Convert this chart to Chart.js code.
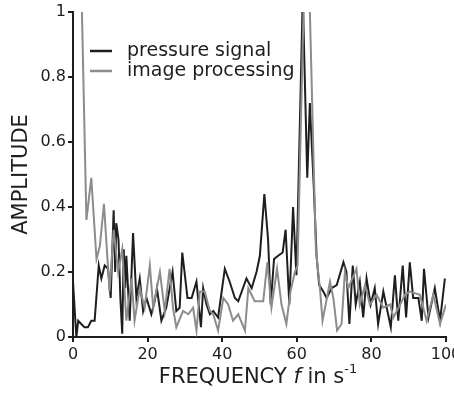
<!DOCTYPE html>
<html>
<head>
<meta charset="utf-8">
<script src="https://cdn.jsdelivr.net/npm/chart.js@4/dist/chart.umd.min.js"></script>
<style>
  html, body { margin: 0; padding: 0; background: #fff; }
  #wrap { width: 454px; height: 394px; position: relative; }
</style>
</head>
<body>
<div id="wrap"><canvas id="spec"></canvas></div>
<script>
// ── data ──
const pressureFreq = [0, 0.9, 1.4, 2.2, 3.1, 4.0, 4.9, 5.8, 6.9, 7.6, 8.5, 9.4, 10.1, 10.9, 11.3, 11.6, 12.2, 12.7, 13.2, 13.6, 14.0, 14.3, 15.2, 16.1, 17.0, 17.9, 18.8, 19.7, 21.0, 21.9, 22.5, 23.7, 25.0, 26.7, 27.7, 28.6, 29.3, 30.7, 31.8, 33.1, 34.3, 34.9, 35.8, 36.7, 37.6, 38.9, 40.7, 42.0, 43.4, 44.3, 46.5, 47.9, 49.2, 50.1, 51.3, 52.3, 53.0, 53.9, 55.0, 56.2, 57.0, 58.0, 59.0, 59.9, 61.6, 62.8, 63.5, 64.6, 65.3, 66.0, 67.1, 68.0, 69.3, 70.7, 72.5, 73.3, 74.1, 75.0, 75.8, 76.9, 77.8, 78.7, 79.8, 80.9, 81.8, 83.2, 85.2, 86.3, 87.2, 88.4, 89.3, 90.3, 91.2, 92.6, 93.5, 94.1, 95.3, 97.0, 98.4, 99.7];
const pressureAmp  = [0.17, 0.0, 0.05, 0.04, 0.03, 0.03, 0.05, 0.05, 0.22, 0.18, 0.22, 0.21, 0.12, 0.39, 0.2, 0.35, 0.3, 0.12, 0.01, 0.27, 0.15, 0.25, 0.05, 0.32, 0.12, 0.18, 0.08, 0.12, 0.07, 0.11, 0.15, 0.05, 0.09, 0.2, 0.08, 0.09, 0.26, 0.12, 0.12, 0.17, 0.03, 0.15, 0.1, 0.07, 0.08, 0.06, 0.21, 0.17, 0.12, 0.11, 0.18, 0.15, 0.2, 0.25, 0.44, 0.3, 0.1, 0.24, 0.25, 0.26, 0.33, 0.1, 0.4, 0.19, 1.05, 0.49, 0.72, 0.45, 0.25, 0.16, 0.14, 0.12, 0.15, 0.16, 0.23, 0.2, 0.04, 0.22, 0.1, 0.17, 0.06, 0.18, 0.1, 0.15, 0.04, 0.14, 0.03, 0.19, 0.05, 0.22, 0.06, 0.23, 0.12, 0.12, 0.05, 0.21, 0.06, 0.15, 0.05, 0.18];

const imageFreq = [2.3, 3.6, 4.9, 6.3, 7.2, 8.3, 9.8, 10.9, 12.1, 13.2, 14.3, 15.7, 16.5, 17.9, 19.2, 20.6, 21.5, 23.3, 24.6, 25.9, 26.8, 27.7, 29.5, 30.9, 32.2, 33.1, 34.0, 35.3, 36.7, 37.6, 38.9, 40.3, 41.6, 42.9, 44.3, 46.1, 47.0, 48.7, 51.0, 52.1, 53.2, 54.7, 55.9, 57.2, 58.3, 59.5, 60.2, 61.9, 63.4, 65.1, 66.2, 66.9, 68.9, 69.8, 70.8, 72.0, 72.9, 73.8, 76.0, 76.9, 78.3, 79.6, 81.4, 83.2, 85.0, 85.9, 87.7, 89.0, 90.3, 93.0, 94.8, 96.6, 98.4, 100];
const imageAmp  = [1.05, 0.36, 0.49, 0.24, 0.28, 0.41, 0.14, 0.33, 0.2, 0.27, 0.05, 0.18, 0.05, 0.15, 0.09, 0.22, 0.09, 0.2, 0.08, 0.21, 0.09, 0.03, 0.08, 0.07, 0.09, 0.02, 0.14, 0.14, 0.08, 0.07, 0.02, 0.12, 0.1, 0.05, 0.07, 0.02, 0.15, 0.11, 0.11, 0.23, 0.09, 0.21, 0.1, 0.04, 0.14, 0.2, 0.22, 1.05, 1.05, 0.27, 0.15, 0.05, 0.17, 0.12, 0.02, 0.04, 0.2, 0.15, 0.21, 0.1, 0.16, 0.1, 0.13, 0.09, 0.1, 0.06, 0.1, 0.13, 0.14, 0.13, 0.05, 0.13, 0.04, 0.1];

const seriesNames = ['pressure signal', 'image processing'];
const xTicks = [0, 20, 40, 60, 80, 100];
const yTicks = [0, 0.2, 0.4, 0.6, 0.8, 1];

const FONT = "'DejaVu Sans', Verdana, sans-serif";
const DARK = '#1e1e1e';
const GREY = '#8c8c8c';

const toPoints = (xs, ys) => xs.map((x, i) => ({ x, y: ys[i] }));

// titles + legend drawn by hand (italic f, superscript)
const decorations = {
  id: 'decorations',
  afterDraw(chart) {
    const ctx = chart.ctx;
    const area = chart.chartArea;
    ctx.save();
    ctx.fillStyle = DARK;
    ctx.textBaseline = 'middle';

    // legend
    const lx = 90, items = [[seriesNames[0], DARK, 51], [seriesNames[1], GREY, 71]];
    items.forEach(([txt, col, y]) => {
      ctx.strokeStyle = col;
      ctx.lineWidth = 2.5;
      ctx.beginPath(); ctx.moveTo(lx, y); ctx.lineTo(lx + 22, y); ctx.stroke();
      ctx.fillStyle = DARK;
      ctx.font = `19px ${FONT}`;
      ctx.textAlign = 'left';
      ctx.fillText(txt, lx + 37, y);
    });

    // x title
    const y = 378;
    const parts = [
      ['FREQUENCY ', `21px ${FONT}`, 0],
      ['f', `italic 21px ${FONT}`, 0],
      [' in s', `21px ${FONT}`, 0],
      ['-1', `13px ${FONT}`, -8],
    ];
    let total = 0;
    parts.forEach(p => { ctx.font = p[1]; total += ctx.measureText(p[0]).width; });
    let x = 258 - total / 2;
    ctx.textAlign = 'left';
    parts.forEach(p => {
      ctx.font = p[1];
      ctx.fillText(p[0], x, y + p[2]);
      x += ctx.measureText(p[0]).width;
    });

    // y title
    ctx.translate(22, (area.top + area.bottom) / 2);
    ctx.rotate(-Math.PI / 2);
    ctx.textAlign = 'center';
    ctx.font = `21px ${FONT}`;
    ctx.fillText('AMPLITUDE', 0, 0);
    ctx.restore();
  }
};

new Chart(document.getElementById('spec'), {
  type: 'line',
  data: {
    datasets: [
      {
        label: seriesNames[1],
        data: toPoints(imageFreq, imageAmp),
        borderColor: GREY,
        borderWidth: 2,
        pointRadius: 0,
        tension: 0,
        clip: 0,
      },
      {
        label: seriesNames[0],
        data: toPoints(pressureFreq, pressureAmp),
        borderColor: DARK,
        borderWidth: 2,
        pointRadius: 0,
        tension: 0,
        clip: 0,
      },
    ]
  },
  options: {
    responsive: true,
    maintainAspectRatio: false,
    animation: false,
    layout: { padding: { left: 0, right: 8, top: 12, bottom: 0 } },
    plugins: {
      legend: { display: false },
      tooltip: { enabled: false },
    },
    scales: {
      x: {
        type: 'linear',
        min: 0, max: 100,
        afterFit: s => { s.height = 57; s.paddingRight = 0; s.paddingLeft = 0; },
        afterBuildTicks: s => { s.ticks = xTicks.map(v => ({ value: v })); },
        grid: { display: true, drawOnChartArea: false, drawTicks: true, tickLength: 5, color: DARK, lineWidth: 2 },
        border: { display: true, color: DARK, width: 2 },
        ticks: { color: DARK, padding: 3, maxRotation: 0, font: { family: FONT, size: 16 } },
      },
      y: {
        min: 0, max: 1,
        afterFit: s => { s.width = 73; s.paddingTop = 0; s.paddingBottom = 0; },
        afterBuildTicks: s => { s.ticks = yTicks.map(v => ({ value: v })); },
        grid: { display: true, drawOnChartArea: false, drawTicks: true, tickLength: 5, color: DARK, lineWidth: 2 },
        border: { display: true, color: DARK, width: 2 },
        ticks: { color: DARK, padding: 2, font: { family: FONT, size: 16 }, callback: v => String(v) },
      }
    }
  },
  plugins: [decorations]
});
</script>
</body>
</html>
